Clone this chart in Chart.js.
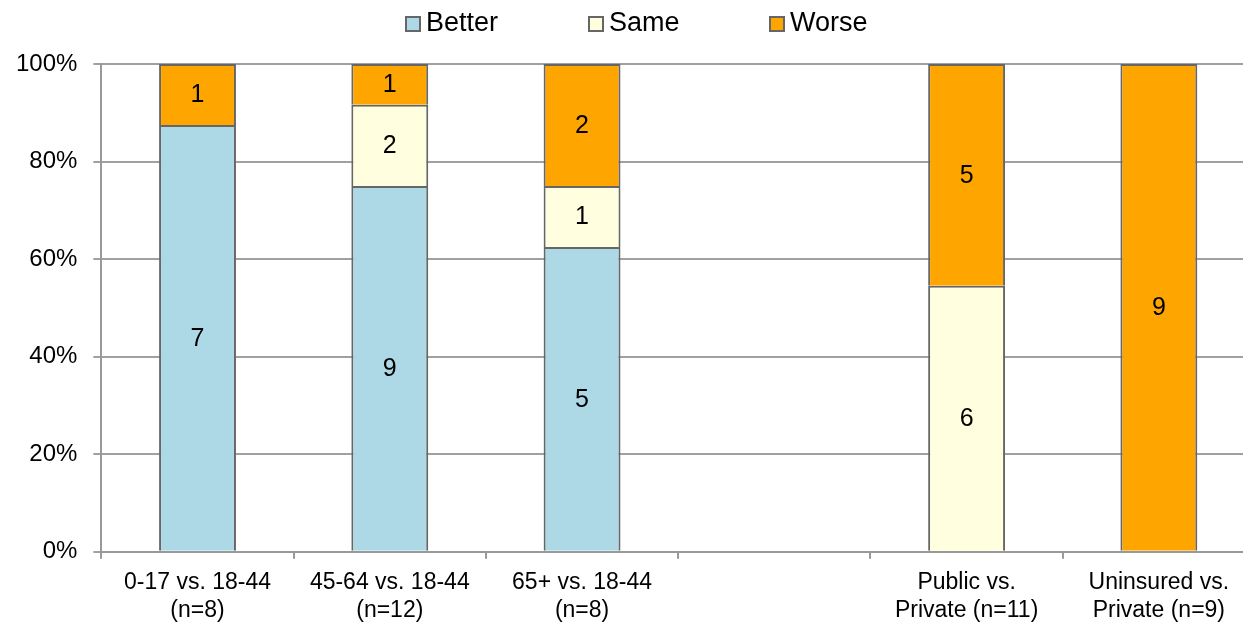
<!DOCTYPE html>
<html>
<head>
<meta charset="utf-8">
<script src="https://cdn.jsdelivr.net/npm/chart.js@4/dist/chart.umd.min.js"></script>
<style>
  html, body { margin: 0; padding: 0; background: #fff; overflow: hidden; }
  #wrap { width: 1255px; height: 634px; }
</style>
</head>
<body>
<div id="wrap"><canvas id="bar-chart"></canvas></div>
<script>
// categories (the empty one is a spacer group in the original)
var categories = [
    ["0-17 vs. 18-44", "(n=8)"],
    ["45-64 vs. 18-44", "(n=12)"],
    ["65+ vs. 18-44", "(n=8)"],
    "",
    ["Public vs.", "Private (n=11)"],
    ["Uninsured vs.", "Private (n=9)"]
];
// counts per group
var better = [7, 9, 5, null, 0, 0];
var same   = [0, 2, 1, null, 6, 0];
var worse  = [1, 1, 2, null, 5, 9];
var yTicks = [0, 20, 40, 60, 80, 100];

function pct(arr, i) {
    var tot = (better[i] || 0) + (same[i] || 0) + (worse[i] || 0);
    if (!tot) return null;
    return arr[i] * 100 / tot;
}
function toPct(arr) { return arr.map(function(v, i){ return pct(arr, i); }); }

var FONT = "'Liberation Sans', Arial, sans-serif";

// counts drawn in the middle of each segment
var countLabels = {
    id: 'countLabels',
    afterDatasetsDraw: function(chart) {
        var ctx = chart.ctx;
        ctx.save();
        ctx.font = "25px " + FONT;
        ctx.fillStyle = "#000";
        ctx.textAlign = "center";
        ctx.textBaseline = "middle";
        chart.data.datasets.forEach(function(ds, di) {
            chart.getDatasetMeta(di).data.forEach(function(bar, i) {
                var n = ds.counts[i];
                if (!n) return;
                var p = bar.getProps(['x', 'y', 'base'], true);
                ctx.fillText(String(n), p.x, (p.y + p.base) / 2 + 1);
            });
        });
        ctx.restore();
    }
};

// legend drawn by hand so items can be spread out
var topLegend = {
    id: 'topLegend',
    afterDraw: function(chart) {
        var ctx = chart.ctx;
        var xs = [406, 589, 770];
        ctx.save();
        ctx.font = "27px " + FONT;
        ctx.textBaseline = "middle";
        chart.data.datasets.forEach(function(ds, i) {
            ctx.fillStyle = ds.backgroundColor;
            ctx.fillRect(xs[i], 17, 14, 14);
            ctx.strokeStyle = "#666";
            ctx.lineWidth = 2;
            ctx.strokeRect(xs[i], 17, 14, 14);
            ctx.fillStyle = "#000";
            ctx.fillText(ds.label, xs[i] + 20, 24);
        });
        ctx.restore();
    }
};

new Chart(document.getElementById("bar-chart"), {
    type: 'bar',
    data: {
        labels: categories,
        datasets: [
            { label: "Better", data: toPct(better), counts: better, backgroundColor: "#ADD8E6" },
            { label: "Same",   data: toPct(same),   counts: same,   backgroundColor: "#FFFFE0" },
            { label: "Worse",  data: toPct(worse),  counts: worse,  backgroundColor: "#FFA500" }
        ].map(function(d) {
            d.borderColor = "#666666";
            d.borderWidth = 2;
            d.borderSkipped = 'start';
            d.categoryPercentage = 1;
            d.barPercentage = 0.4;
            return d;
        })
    },
    options: {
        responsive: true,
        maintainAspectRatio: false,
        animation: false,
        layout: { padding: { top: 64, left: 0, right: 0, bottom: 0 } },
        plugins: {
            legend: { display: false },
            tooltip: { enabled: false }
        },
        scales: {
            x: {
                stacked: true,
                grid: { offset: true, drawOnChartArea: false, color: "#999", tickLength: 7, lineWidth: 2 },
                border: { color: "#999", width: 2 },
                ticks: { color: "#000", font: { family: FONT, size: 23, lineHeight: 1.2 }, maxRotation: 0, autoSkip: false, padding: 10 }
            },
            y: {
                stacked: true,
                min: 0,
                max: 100,
                afterBuildTicks: function(axis) { axis.ticks = yTicks.map(function(v){ return { value: v }; }); },
                grid: { color: "#A0A0A0", tickLength: 8, lineWidth: 2 },
                border: { color: "#999", width: 2 },
                ticks: {
                    color: "#000",
                    font: { family: FONT, size: 24 },
                    padding: 16,
                    callback: function(v) { return v + "%"; }
                }
            }
        }
    },
    plugins: [countLabels, topLegend]
});
</script>
</body>
</html>
